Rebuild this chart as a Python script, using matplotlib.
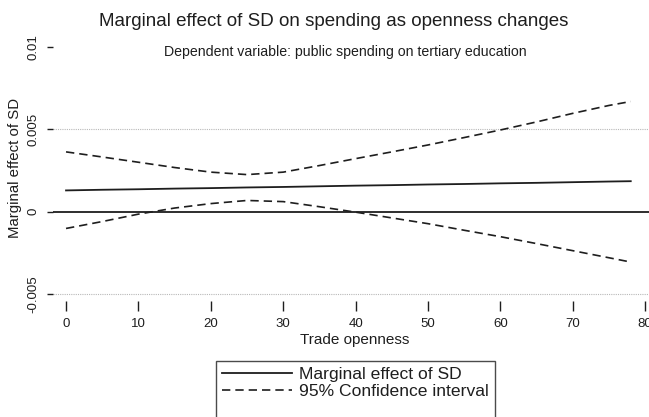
import matplotlib
matplotlib.use("Agg")
import matplotlib.pyplot as plt
from matplotlib.lines import Line2D

plt.rcParams['font.family'] = ['Liberation Sans', 'DejaVu Sans']

# Data
openness = [0, 5, 10, 15, 20, 25, 30, 35, 40, 45, 50, 55, 60, 65, 70, 75, 78]
marginal_effect = [0.00129, 0.00133, 0.00136, 0.00140, 0.00143, 0.00147, 0.00150,
                   0.00154, 0.00158, 0.00161, 0.00165, 0.00168, 0.00172, 0.00175,
                   0.00179, 0.00183, 0.00185]
ci_upper = [0.00363, 0.00332, 0.00300, 0.00268, 0.00240, 0.00225, 0.00240, 0.00280,
            0.00322, 0.00363, 0.00405, 0.00450, 0.00496, 0.00545, 0.00597, 0.00645, 0.00669]
ci_lower = [-0.00102, -0.00060, -0.00015, 0.00022, 0.00049, 0.00068, 0.00061, 0.00030,
            -0.00003, -0.00038, -0.00073, -0.00113, -0.00152, -0.00194, -0.00237, -0.00280, -0.00306]

x_ticks = [0, 10, 20, 30, 40, 50, 60, 70, 80]
y_ticks = [-0.005, 0, 0.005, 0.01]
y_tick_labels = ['-0.005', '0', '0.005', '0.01']

W, H = 649, 417
fig = plt.figure(figsize=(W / 100, H / 100), dpi=100)
fig.patch.set_facecolor('white')

left_px, right_px, top_px, bottom_px = 53, 660, 45, 301
ax = fig.add_axes([left_px / W, 1 - bottom_px / H, (right_px - left_px) / W, (bottom_px - top_px) / H])
ax.set_xlim(-1.8, 82.04)
ax.set_ylim(-0.005425, 0.01012)

for s in ax.spines.values():
    s.set_visible(False)

line_col = '#1e1e1e'
# grid lines
for g in [-0.005, 0.005]:
    ax.axhline(g, color='#b8b8b8', lw=0.8, ls=(0, (1, 1)), zorder=1)
ax.axhline(0, color=line_col, lw=1.3, zorder=2)

ax.plot(openness, marginal_effect, color=line_col, lw=1.3, zorder=3)
ax.plot(openness, ci_upper, color=line_col, lw=1.2, dashes=(5, 3), zorder=3)
ax.plot(openness, ci_lower, color=line_col, lw=1.2, dashes=(5, 3), zorder=3)

ax.set_xticks(x_ticks)
ax.set_xticklabels([str(v) for v in x_ticks])
ax.set_yticks(y_ticks)
ax.set_yticklabels(y_tick_labels, rotation=90, va='center')
ax.tick_params(axis='x', direction='out', length=7, width=1, pad=5, labelsize=9.5,
               colors=line_col)
ax.tick_params(axis='y', direction='out', length=4, width=1, pad=6, labelsize=9.5,
               colors=line_col)

fig.text(15 / W, 1 - 168 / H, 'Marginal effect of SD', rotation=90, ha='center',
         va='center', fontsize=10.8, color=line_col)
fig.text(355 / W, 1 - 340 / H, 'Trade openness', ha='center', va='center',
         fontsize=11, color=line_col)
fig.text(334 / W, 1 - 21 / H, 'Marginal effect of SD on spending as openness changes',
         ha='center', va='center', fontsize=13.5, color=line_col)
fig.text(345 / W, 1 - 52 / H, 'Dependent variable: public spending on tertiary education',
         ha='center', va='center', fontsize=10.2, color=line_col)

handles = [Line2D([], [], color=line_col, lw=1.3),
           Line2D([], [], color=line_col, lw=1.2, dashes=(5, 3)),
           Line2D([], [], color='none')]
labels = ['Marginal effect of SD', '95% Confidence interval', ' ']
leg = fig.legend(handles, labels, loc='upper center', bbox_to_anchor=(355 / W, 1 - 361 / H),
                 frameon=True, fancybox=False, edgecolor=line_col, fontsize=12.6,
                 handlelength=4.0, handletextpad=0.4, labelspacing=0.1, borderpad=0.35,
                 borderaxespad=0)
leg.get_frame().set_linewidth(1.0)
for t in leg.get_texts():
    t.set_color(line_col)

fig.savefig('out.png', dpi=100, facecolor='white')
